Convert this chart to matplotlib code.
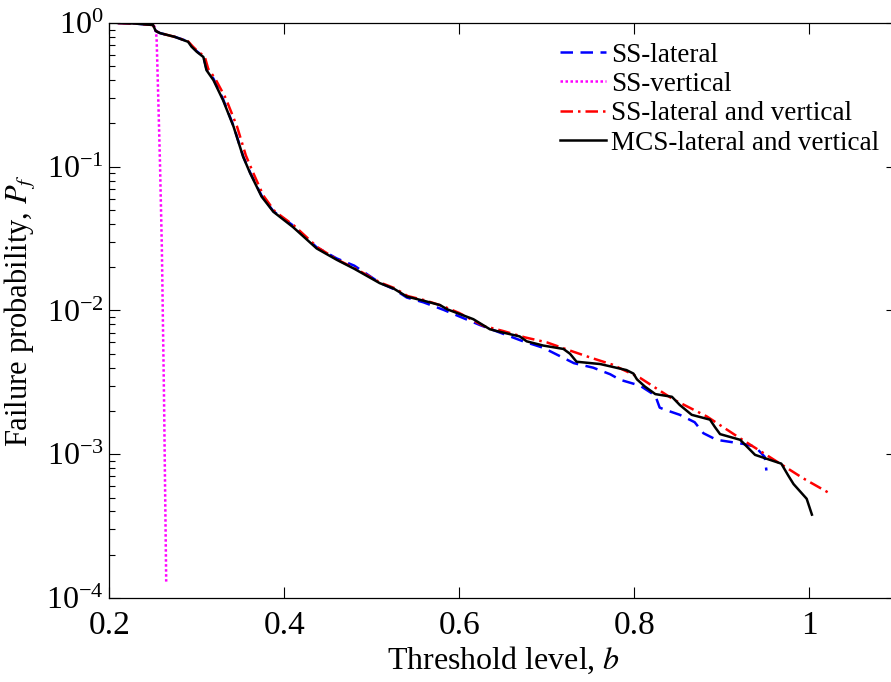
import numpy as np
import matplotlib
matplotlib.use("Agg")
import matplotlib.pyplot as plt

plt.rcParams['font.family'] = ['Liberation Serif', 'DejaVu Serif']
plt.rcParams['mathtext.fontset'] = 'stix'
plt.rcParams['axes.unicode_minus'] = False

# MCS - lateral and vertical (reference)
b_mcs = [0.210, 0.230, 0.250, 0.253, 0.258, 0.275, 0.290, 0.294, 0.300, 0.3075,
         0.311, 0.319, 0.330, 0.342, 0.353, 0.361, 0.374, 0.3875, 0.410, 0.437,
         0.460, 0.480, 0.509, 0.525, 0.540, 0.559, 0.578, 0.586, 0.616, 0.635,
         0.6465, 0.669, 0.677, 0.696, 0.719, 0.7265, 0.734, 0.761, 0.791, 0.799,
         0.803, 0.812, 0.824, 0.843, 0.852, 0.8656, 0.8865, 0.892, 0.898, 0.921,
         0.938, 0.968, 0.976, 0.982, 0.997, 1.003]
pf_mcs = [1.0, 0.99, 0.968, 0.88, 0.85, 0.80, 0.74, 0.684, 0.63, 0.58,
          0.47, 0.40, 0.29, 0.19, 0.117, 0.09, 0.062, 0.0486, 0.038, 0.027,
          0.0225, 0.0195, 0.0155, 0.0142, 0.0125, 0.0117, 0.0109, 0.0102, 0.0087, 0.0074,
          0.0071, 0.0066, 0.0061, 0.0057, 0.0054, 0.0050, 0.0044, 0.00424, 0.00385, 0.00364,
          0.00332, 0.00296, 0.00262, 0.00251, 0.00220, 0.00188, 0.00174, 0.00155, 0.00138, 0.00126,
          0.00099, 0.00086, 0.00071, 0.00062, 0.00049, 0.00038]

# SS - lateral
b_lat = [0.210, 0.230, 0.250, 0.253, 0.258, 0.275, 0.290, 0.294, 0.300, 0.3075,
         0.311, 0.319, 0.330, 0.342, 0.353, 0.361, 0.374, 0.3875, 0.410, 0.437,
         0.460, 0.480, 0.509, 0.525, 0.540, 0.559, 0.582, 0.624, 0.673, 0.696,
         0.731, 0.753, 0.7725, 0.7835, 0.8065, 0.824, 0.829, 0.835, 0.852, 0.869,
         0.879, 0.894, 0.9245, 0.938, 0.949, 0.951]
pf_lat = [1.0, 0.99, 0.968, 0.88, 0.85, 0.80, 0.745, 0.69, 0.635, 0.585,
          0.48, 0.41, 0.295, 0.192, 0.118, 0.091, 0.063, 0.049, 0.039, 0.0275,
          0.023, 0.0205, 0.0156, 0.0141, 0.0123, 0.0114, 0.0101, 0.0079, 0.0061, 0.0055,
          0.0043, 0.0040, 0.0036, 0.0033, 0.0030, 0.00256, 0.00211, 0.00204, 0.00188, 0.00167,
          0.00140, 0.00126, 0.00118, 0.00113, 0.00096, 0.00077]

# SS - vertical
b_ver = [0.210, 0.230, 0.245, 0.252, 0.254, 0.256, 0.258, 0.260, 0.2625, 0.265]
pf_ver = [1.0, 0.99, 0.985, 0.94, 0.80, 0.29, 0.10, 0.028, 0.0025, 0.00013]

# SS - lateral and vertical
b_lv = [0.210, 0.230, 0.250, 0.253, 0.258, 0.275, 0.290, 0.295, 0.301, 0.309,
        0.313, 0.321, 0.333, 0.346, 0.356, 0.364, 0.376, 0.389, 0.411, 0.438,
        0.461, 0.481, 0.510, 0.526, 0.541, 0.560, 0.580, 0.600, 0.628, 0.650,
        0.675, 0.700, 0.725, 0.750, 0.775, 0.8065, 0.845, 0.883, 0.921, 0.940,
        0.968, 0.993, 1.022]
pf_lv = [1.0, 0.99, 0.968, 0.88, 0.85, 0.80, 0.745, 0.69, 0.635, 0.585,
         0.48, 0.41, 0.30, 0.19, 0.12, 0.092, 0.063, 0.049, 0.039, 0.0275,
         0.0225, 0.0196, 0.0156, 0.0143, 0.0126, 0.0118, 0.0108, 0.0096, 0.0078, 0.0072,
         0.0065, 0.0060, 0.0053, 0.0047, 0.0042, 0.0034, 0.0024, 0.00183, 0.00129, 0.00109,
         0.00085, 0.00068, 0.00054]

fig = plt.figure(figsize=(8.91, 6.82), dpi=100)
ax = fig.add_axes([0.1227, 0.1232, 0.8838, 0.8431])

ax.plot(b_lat, pf_lat, color='blue', linestyle=(0, (5, 3)), linewidth=1.8, label='SS-lateral')
ax.plot(b_ver, pf_ver, color='magenta', linestyle=(0, (1, 1)), linewidth=1.8, label='SS-vertical')
ax.plot(b_lv, pf_lv, color='red', linestyle=(0, (5, 2, 1, 2)), linewidth=1.8, label='SS-lateral and vertical')
ax.plot(b_mcs, pf_mcs, color='black', linestyle='-', linewidth=1.8, label='MCS-lateral and vertical')

ax.set_yscale('log')
ax.set_xlim(0.2, 1.1)
ax.set_ylim(1e-4, 1)
ax.set_xticks([0.2, 0.4, 0.6, 0.8, 1.0])
ax.set_xticklabels(['0.2', '0.4', '0.6', '0.8', '1'])
ax.tick_params(which='both', direction='in', top=True, right=True)
ax.tick_params(axis='x', labelsize=24)
ax.tick_params(axis='y', labelsize=23)
ax.tick_params(which='major', length=8, width=0.8)
ax.tick_params(which='minor', length=4, width=0.8)
ax.tick_params(axis='x', which='major', pad=9)
ax.tick_params(axis='y', which='major', pad=4)
for s in ax.spines.values():
    s.set_linewidth(0.9)

ax.set_xlabel('Threshold level, $b$', fontsize=23, labelpad=3)
ax.set_ylabel('Failure probability, $P_f$', fontsize=22, labelpad=6)

ax.legend(loc='upper right', frameon=False, fontsize=19.5, handlelength=1.7,
          handletextpad=0.2, labelspacing=0.16, borderpad=0, borderaxespad=0,
          bbox_to_anchor=(0.978, 0.966))

plt.savefig('out.png', dpi=100)
